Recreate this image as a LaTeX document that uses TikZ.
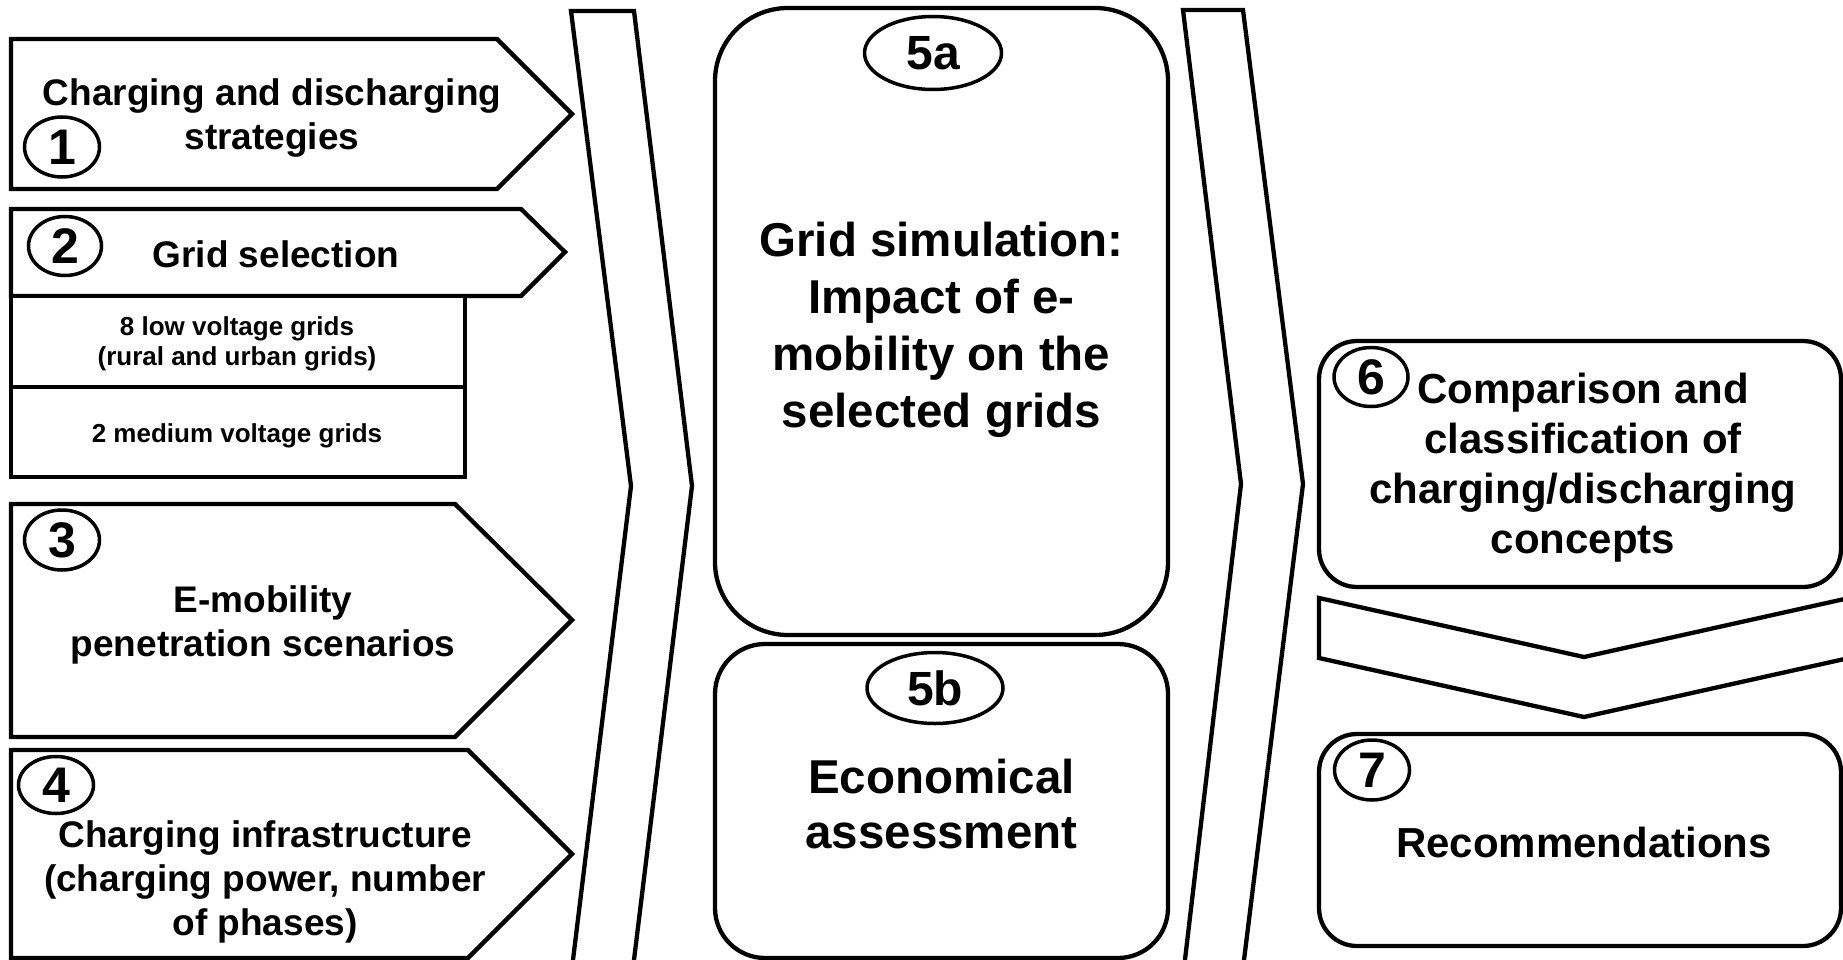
\documentclass[tikz,border=0pt]{standalone}
\usepackage{fontspec}
\setmainfont{Liberation Sans}
\usetikzlibrary{shapes.geometric}

% centred multi-line text whose reference point is the first baseline
\newcommand{\mlines}[1]{\begin{tabular}[t]{@{}c@{}}#1\end{tabular}}

\tikzset{
  outline/.style={draw=black, line width=4.3pt, line join=miter, fill=white},
  roundbox/.style={outline, rounded corners=#1},
  numring/.style={draw=black, ellipse, line width=3.5pt, inner sep=0pt,
    font=\fontsize{50}{50}\selectfont\bfseries},
  txtA/.style={anchor=base, inner sep=0pt, font=\fontsize{37}{44}\selectfont\bfseries},
  txtS/.style={anchor=base, inner sep=0pt, font=\fontsize{26}{30}\selectfont\bfseries},
  txtM/.style={anchor=base, inner sep=0pt, font=\fontsize{47.5}{#1}\selectfont\bfseries},
  txtR/.style={anchor=base, inner sep=0pt, font=\fontsize{42}{50}\selectfont\bfseries},
}

\begin{document}
\begin{tikzpicture}[x=1pt, y=-1pt]
\useasboundingbox (0,0) rectangle (1843,960);
\fill[white] (0,0) rectangle (1843,960);

% ---- input arrows (steps 1-4) ----
\draw[outline] (11,39) -- (497,39) -- (572,114) -- (497,189) -- (11,189) -- cycle;
\draw[outline] (11,209) -- (521,209) -- (565,252) -- (521,296) -- (11,296) -- cycle;
\draw[outline] (11,296) rectangle (465,477);
\draw[outline] (11,387) -- (465,387);
\draw[outline] (11,504) -- (455,504) -- (572,620) -- (455,737) -- (11,737) -- cycle;
\draw[outline] (11,750) -- (468,750) -- (572,854) -- (468,958) -- (11,958) -- cycle;

% ---- large chevrons between the stages ----
\draw[outline] (571,11) -- (634,11) -- (692,486) -- (633,968) -- (572,968) -- (631,486) -- cycle;
\draw[outline] (1183,10) -- (1243,10) -- (1303,484) -- (1243,968) -- (1184,968) -- (1241,484) -- cycle;

% ---- simulation and assessment blocks ----
\draw[roundbox=73pt] (715,8) rectangle (1168,635);
\draw[roundbox=50pt] (715,644) rectangle (1168,958);

% ---- comparison, downward chevron, recommendations ----
\draw[roundbox=38pt] (1319,341) rectangle (1841,587);
\draw[outline] (1319,598) -- (1584,657) -- (1849,598) -- (1849,658) -- (1584,717) -- (1319,658) -- cycle;
\draw[roundbox=38pt] (1319,734) rectangle (1841,946);

% ---- step numbers ----
\node[numring, minimum width=75pt, minimum height=60pt] (n1) at (62,147) {1};
\node[numring, minimum width=73pt, minimum height=59pt] (n2) at (65,246) {2};
\node[numring, minimum width=75pt, minimum height=60pt] (n3) at (62,540) {3};
\node[numring, minimum width=75pt, minimum height=57pt] (n4) at (56,785) {4};
\node[numring, minimum width=137pt, minimum height=73pt,
      font=\fontsize{48}{48}\selectfont\bfseries] (n5a) at (933,53) {5a};
\node[numring, minimum width=136pt, minimum height=71pt,
      font=\fontsize{48}{48}\selectfont\bfseries] (n5b) at (935,688) {5b};
\node[numring, minimum width=74pt, minimum height=59pt] (n6) at (1371,377) {6};
\node[numring, minimum width=75pt, minimum height=60pt] (n7) at (1372,770) {7};

% ---- texts ----
\node[txtA] (t1) at (272,106) {\mlines{Charging and discharging\\strategies}};
\node[txtA] (t2) at (276,267) {Grid selection};
\node[txtS] (t2a) at (237,335) {\mlines{8 low voltage grids\\(rural and urban grids)}};
\node[txtS] (t2b) at (237,442) {2 medium voltage grids};
\node[txtA] (t3) at (263,612) {\mlines{E-mobility\\penetration scenarios}};
\node[txtA] (t4) at (265,847) {\mlines{Charging infrastructure\\(charging power, number\\of phases)}};
\node[txtM=57] (t5a) at (941.5,256) {\mlines{Grid simulation:\\Impact of e-\\mobility on the\\selected grids}};
\node[txtM=55] (t5b) at (941.5,793) {\mlines{Economical\\assessment}};
\node[txtR] (t6) at (1583,403) {\mlines{Comparison and\\classification of\\charging/discharging\\concepts}};
\node[txtR] (t7) at (1584,857) {Recommendations};
\end{tikzpicture}
\end{document}
